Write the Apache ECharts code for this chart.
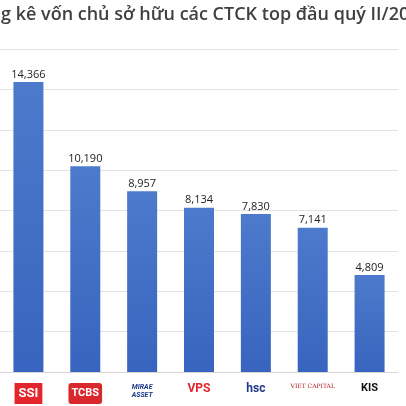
<!DOCTYPE html>
<html><head><meta charset="utf-8">
<script src="https://cdn.jsdelivr.net/npm/echarts@6/dist/echarts.min.js"></script>
<style>html,body{margin:0;padding:0;background:#fff}#c{width:406px;height:406px}</style>
</head><body><div id="c"></div>
<script>
var companies = ['SSI', 'TCBS', 'MIRAE ASSET', 'VPS', 'hsc', 'VIET CAPITAL', 'KIS'];
var equity = [14366, 10190, 8957, 8134, 7830, 7141, 4809];

var logoStyle = {
    'SSI': 'ssi', 'TCBS': 'tcbs', 'MIRAE ASSET': 'mirae', 'VPS': 'vps',
    'hsc': 'hsc', 'VIET CAPITAL': 'vcsc', 'KIS': 'kis'
};

var chart = echarts.init(document.getElementById('c'));
chart.setOption({
    animation: false,
    graphic: [{
        type: 'text', left: -43, top: 6,
        style: { text: 'Thống kê vốn chủ sở hữu các CTCK top đầu quý II/2019', fontSize: 18, fontFamily: 'Open Sans', fontWeight: 600, fill: '#404040' }
    }],
    grid: { left: -4, right: 8, top: 49, bottom: 34 },
    xAxis: {
        type: 'category',
        data: companies,
        axisLine: { lineStyle: { color: '#d9d9d9' } },
        axisTick: { show: false },
        axisLabel: {
            margin: 11,
            interval: 0,
            formatter: function (v) { return '{' + logoStyle[v] + '|' + (v === 'MIRAE ASSET' ? 'MIRAE\nASSET' : v) + '}'; },
            rich: {
                ssi: { backgroundColor: '#e3262e', color: '#fff', fontWeight: 'bold', fontSize: 13, padding: [4, 4], fontFamily: 'Roboto' },
                tcbs: { backgroundColor: '#d9272e', color: '#fff', fontWeight: 'bold', fontSize: 11, padding: [5, 3], borderRadius: 3, fontFamily: 'Roboto' },
                mirae: { color: '#1e3a8a', fontWeight: 'bold', fontStyle: 'italic', fontSize: 7, lineHeight: 8, fontFamily: 'Roboto' },
                vps: { color: '#e3262e', fontWeight: 'bold', fontSize: 12, fontFamily: 'Roboto' },
                hsc: { color: '#1e3a8a', fontWeight: 'bold', fontSize: 12, fontFamily: 'Roboto' },
                vcsc: { color: '#b5121b', fontSize: 6, fontFamily: 'DejaVu Serif' },
                kis: { color: '#111', fontWeight: 'bold', fontSize: 11, fontFamily: 'Roboto' }
            }
        }
    },
    yAxis: {
        type: 'value', min: 0, max: 16000, interval: 2000,
        axisLabel: { show: false },
        axisLine: { show: false },
        splitLine: { lineStyle: { color: '#e3e3e3' } }
    },
    series: [{
        type: 'bar',
        data: equity,
        barWidth: 30,
        itemStyle: {
            color: new echarts.graphic.LinearGradient(0, 0, 0, 1, [
                { offset: 0, color: '#4d7acb' },
                { offset: 1, color: '#3864bf' }
            ])
        },
        label: {
            show: true, position: 'top', distance: 2,
            color: '#222', fontSize: 11, fontFamily: 'Open Sans',
            formatter: function (p) { return p.value.toLocaleString('en-US'); }
        }
    }]
});
</script></body></html>
